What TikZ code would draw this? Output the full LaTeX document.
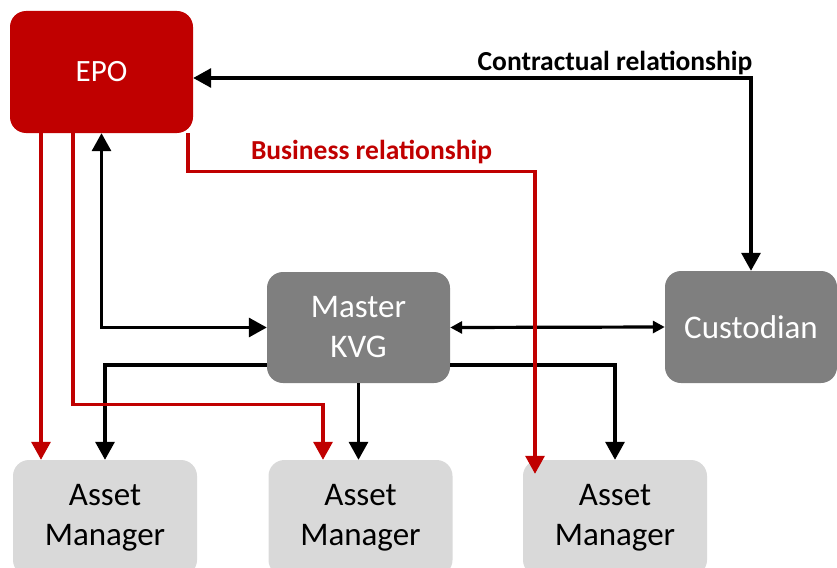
\documentclass[tikz,border=0pt]{standalone}
\usepackage{fontspec}
\setmainfont{Carlito}
\usetikzlibrary{arrows.meta,calc}
\definecolor{epored}{HTML}{C00000}
\definecolor{kvggray}{HTML}{7F7F7F}
\definecolor{amgray}{HTML}{D9D9D9}

\begin{document}
\begin{tikzpicture}[x=1pt,y=-1pt,
    box/.style={rounded corners=16pt, align=center, inner sep=0pt,
        font=\fontsize{33}{40}\selectfont},
    amBox/.style={box, fill=amgray, minimum width=184pt, minimum height=116pt},
    lbl/.style={font=\fontsize{27.5}{30}\selectfont\bfseries, inner sep=2pt},
    conn/.style={line width=3.2pt, -{Triangle[length=18pt,width=19pt]}},
    dconn/.style={line width=3.2pt, {Triangle[length=18pt,width=19pt]}-{Triangle[length=18pt,width=19pt]}},
    sconn/.style={line width=3.2pt, {Triangle[length=12pt,width=12pt]}-{Triangle[length=12pt,width=12pt]}},
    rconn/.style={conn, epored}]
    \useasboundingbox (0,0) rectangle (837,567);
    % boxes
    \node[box, fill=epored, text=white, minimum width=183pt, minimum height=122pt,
        font=\fontsize{31}{40}\selectfont] (EPO) at (101.5,72) {EPO};
    \node[box, fill=kvggray, text=white, minimum width=183pt, minimum height=111pt] (kvg) at (358.5,327.5) {Master\\KVG};
    \node[box, fill=kvggray, text=white, minimum width=172pt, minimum height=112pt] (cust) at (751,327) {Custodian};
    \node[amBox] (am1) at (105,518) {Asset\\Manager};
    \node[amBox] (am2) at (360.5,518) {Asset\\Manager};
    \node[amBox] (am3) at (615,518) {Asset\\Manager};
    % black connectors
    \draw[dconn] ([yshift=-6]EPO.east) -| (cust.north)
        node[lbl, pos=.5, above left, xshift=5pt] {Contractual relationship};
    \draw[dconn] (EPO.south) |- (kvg.west);
    \draw[sconn] (kvg.east) -- (cust.west);
    \draw[conn] ([yshift=-37.5]kvg.west) -| (am1.north);
    \draw[conn] (kvg.south) -- (kvg.south |- am2.north);
    \draw[conn] ([yshift=-37.5]kvg.east) -| (am3.north);
    % red connectors
    \draw[rconn] ([xshift=-60.5]EPO.south) -- ([xshift=-64]am1.north);
    \draw[rconn] ([xshift=-28.5]EPO.south) |- ([xshift=-37.5,yshift=55]am2.north) -- ([xshift=-37.5]am2.north);
    \draw[rconn] ([xshift=86.5]EPO.south) |- ([xshift=-80,yshift=288]am3.north)
        node[lbl, text=epored, pos=.75, above, xshift=10pt, yshift=4pt] {Business relationship}
        -- ([xshift=-80,yshift=-14]am3.north);
\end{tikzpicture}
\end{document}
